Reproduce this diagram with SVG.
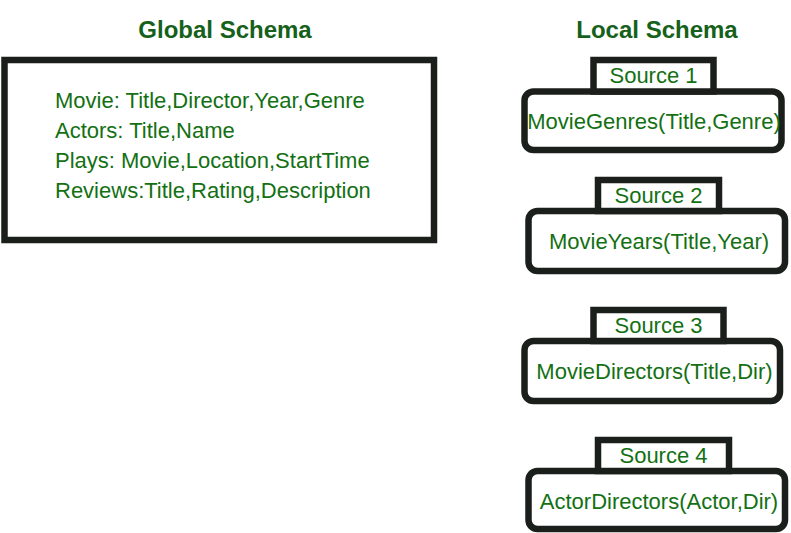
<svg xmlns="http://www.w3.org/2000/svg" width="791" height="533" viewBox="0 0 791 533">
  <style>
    .frame { fill: #ffffff; stroke: #1b1f1b; stroke-width: 6.5; }
    .title { font-family: "Liberation Sans", Arial, sans-serif; font-size: 24px; font-weight: bold; fill: #15601a; text-anchor: middle; }
    .txt { font-family: "Liberation Sans", Arial, sans-serif; font-size: 22px; fill: #137013; }
    .mid { text-anchor: middle; }
  </style>
  <rect width="791" height="533" fill="#ffffff"/>

  <!-- column headings -->
  <text class="title" x="225" y="38">Global Schema</text>
  <text class="title" x="657" y="38">Local Schema</text>

  <!-- global schema relations -->
  <g id="global-schema">
    <rect class="frame" x="4.5" y="60" width="429.5" height="180"/>
    <text class="txt" x="55" y="108">Movie: Title,Director,Year,Genre</text>
    <text class="txt" x="55" y="138">Actors: Title,Name</text>
    <text class="txt" x="55" y="168">Plays: Movie,Location,StartTime</text>
    <text class="txt" x="55" y="198">Reviews:Title,Rating,Description</text>
  </g>

  <!-- local sources: tab label + rounded relation box -->
  <g id="source-1">
    <rect class="frame" x="524.5" y="91.5" width="257" height="58.5" rx="9"/>
    <rect class="frame" x="593.5" y="60" width="120" height="31.5"/>
    <text class="txt mid" x="653.5" y="83">Source 1</text>
    <text class="txt mid" x="654" y="128.5">MovieGenres(Title,Genre)</text>
  </g>

  <g id="source-2">
    <rect class="frame" x="528.5" y="211" width="256.5" height="60" rx="9"/>
    <rect class="frame" x="598" y="180" width="121" height="31"/>
    <text class="txt mid" x="658.5" y="203">Source 2</text>
    <text class="txt mid" x="659" y="249">MovieYears(Title,Year)</text>
  </g>

  <g id="source-3">
    <rect class="frame" x="524.5" y="341" width="255.5" height="60" rx="9"/>
    <rect class="frame" x="593.5" y="310" width="130" height="31"/>
    <text class="txt mid" x="658.5" y="333">Source 3</text>
    <text class="txt mid" x="654.5" y="379">MovieDirectors(Title,Dir)</text>
  </g>

  <g id="source-4">
    <rect class="frame" x="528.5" y="471" width="256.5" height="58" rx="9"/>
    <rect class="frame" x="598" y="440" width="131" height="31"/>
    <text class="txt mid" x="663.5" y="463">Source 4</text>
    <text class="txt mid" x="659" y="509">ActorDirectors(Actor,Dir)</text>
  </g>

  <g id="connectors"></g>
</svg>
